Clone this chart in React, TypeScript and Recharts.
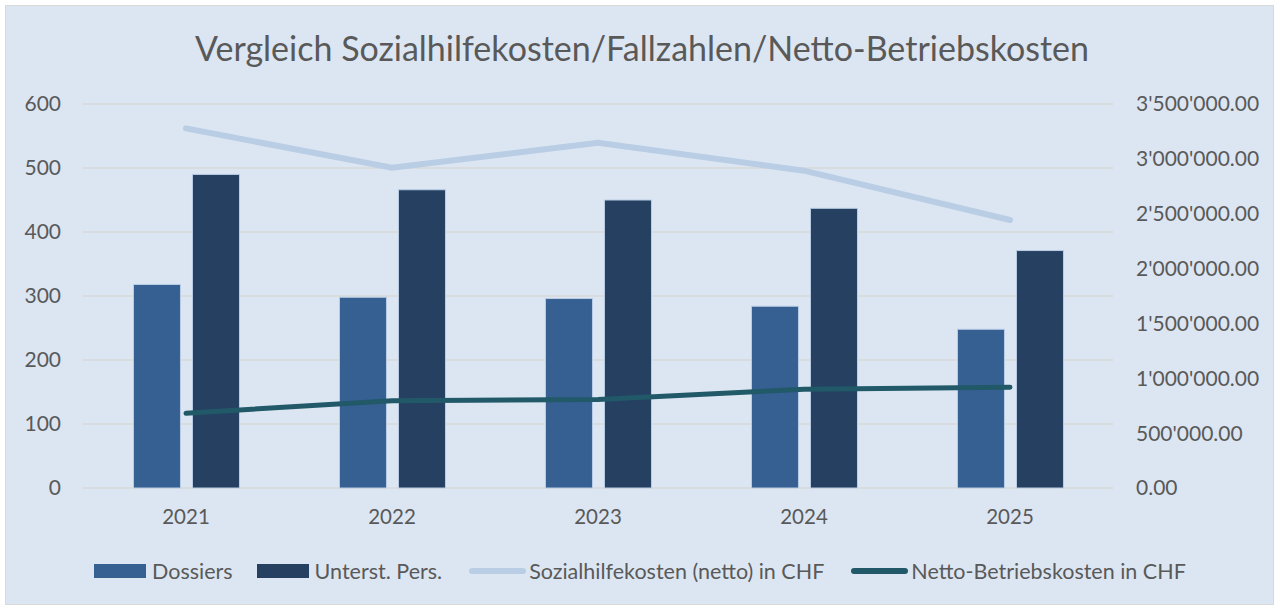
import * as React from "react"
import { ComposedChart, Bar, Line, XAxis, YAxis, CartesianGrid } from "recharts"

const years = ["2021", "2022", "2023", "2024", "2025"]
const dossiers = [318, 298, 296, 284, 248]
const unterstPers = [490, 466, 450, 437, 371]
const sozialhilfekosten = [3278000, 2919000, 3147000, 2892000, 2443000]
const nettoBetriebskosten = [681000, 796000, 807000, 900000, 918000]

const leftTicks = [0, 100, 200, 300, 400, 500, 600]
const rightTicks = [0, 500000, 1000000, 1500000, 2000000, 2500000, 3000000, 3500000]

const seriesNames = {
  dossiers: "Dossiers",
  unterst: "Unterst. Pers.",
  sozial: "Sozialhilfekosten (netto) in CHF",
  netto: "Netto-Betriebskosten in CHF",
}

const colors = {
  dossiers: "#366092",
  unterst: "#254061",
  sozial: "#b9cde5",
  netto: "#215968",
}

const FONT = "Lato, 'Open Sans', sans-serif"
const TEXT = "#595959"

const data = years.map((year, i) => ({
  year,
  dossiers: dossiers[i],
  unterst: unterstPers[i],
  sozial: sozialhilfekosten[i],
  netto: nettoBetriebskosten[i],
}))

// 3'500'000.00 style
function chf(v: number) {
  const [int, dec] = v.toFixed(2).split(".")
  return int.replace(/\B(?=(\d{3})+(?!\d))/g, "'") + "." + dec
}

function LegendRow() {
  const items = [
    { key: "dossiers", type: "rect", gap: 24 },
    { key: "unterst", type: "rect", gap: 27 },
    { key: "sozial", type: "line", gap: 27 },
    { key: "netto", type: "line", gap: 0 },
  ] as const
  return (
    <div
      style={{
        position: "absolute",
        top: 558,
        left: 94,
        display: "flex",
        alignItems: "center",
        fontFamily: FONT,
        fontSize: 21.5,
        color: TEXT,
        whiteSpace: "nowrap",
      }}
    >
      {items.map((it) => (
        <div key={it.key} style={{ display: "flex", alignItems: "center", marginRight: it.gap }}>
          {it.type === "rect" ? (
            <span style={{ display: "inline-block", width: 52, height: 14, background: colors[it.key], marginRight: 6 }} />
          ) : (
            <span style={{ display: "inline-block", width: 57, height: 6, borderRadius: 3, background: colors[it.key], marginRight: 3 }} />
          )}
          <span>{seriesNames[it.key]}</span>
        </div>
      ))}
    </div>
  )
}

export default function App() {
  const tickStyle = { fill: TEXT, fontSize: 21, fontFamily: FONT }
  return (
    <div style={{ position: "absolute", left: 0, top: 0, width: 1276, height: 607, background: "#fff" }}>
      <div
        style={{
          position: "absolute",
          left: 5,
          top: 5,
          width: 1269,
          height: 600,
          background: "#dce6f2",
          border: "1px solid #d9d9d9",
          boxSizing: "border-box",
        }}
      />
      <div
        style={{
          position: "absolute",
          top: 27,
          left: 0,
          width: 1284,
          textAlign: "center",
          fontFamily: FONT,
          fontSize: 34,
          color: TEXT,
          whiteSpace: "nowrap",
        }}
      >
        Vergleich Sozialhilfekosten/Fallzahlen/Netto-Betriebskosten
      </div>
      <div style={{ position: "absolute", left: 0, top: 0 }}>
        <ComposedChart
          width={1276}
          height={607}
          data={data}
          margin={{ top: 104, right: 0, bottom: 0, left: 0 }}
          barCategoryGap="24.5%"
          barGap={12}
        >
          <CartesianGrid vertical={false} stroke="#d9d9d9" strokeWidth={1.5} yAxisId="left" />
          <XAxis
            dataKey="year"
            height={119}
            axisLine={false}
            tickLine={false}
            tickSize={0}
            tickMargin={21}
            tick={{ ...tickStyle, fontSize: 20.5 }}
          />
          <YAxis
            yAxisId="left"
            orientation="left"
            width={83}
            domain={[0, 600]}
            ticks={leftTicks}
            axisLine={false}
            tickLine={false}
            tickSize={0}
            tickMargin={22}
            tick={tickStyle}
          />
          <YAxis
            yAxisId="right"
            orientation="right"
            width={163}
            domain={[0, 3500000]}
            ticks={rightTicks}
            tickFormatter={chf}
            axisLine={false}
            tickLine={false}
            tickSize={0}
            tickMargin={23}
            tick={{ ...tickStyle, textAnchor: "start" }}
          />
          <Bar yAxisId="left" dataKey="dossiers" name={seriesNames.dossiers} fill={colors.dossiers} stroke="#b9cde5" strokeWidth={1} isAnimationActive={false} />
          <Bar yAxisId="left" dataKey="unterst" name={seriesNames.unterst} fill={colors.unterst} stroke="#b9cde5" strokeWidth={1} isAnimationActive={false} />
          <Line yAxisId="right" dataKey="sozial" name={seriesNames.sozial} stroke={colors.sozial} strokeWidth={6} strokeLinecap="round" dot={false} isAnimationActive={false} />
          <Line yAxisId="right" dataKey="netto" name={seriesNames.netto} stroke={colors.netto} strokeWidth={5} strokeLinecap="round" dot={false} isAnimationActive={false} />
        </ComposedChart>
      </div>
      <LegendRow />
    </div>
  )
}
